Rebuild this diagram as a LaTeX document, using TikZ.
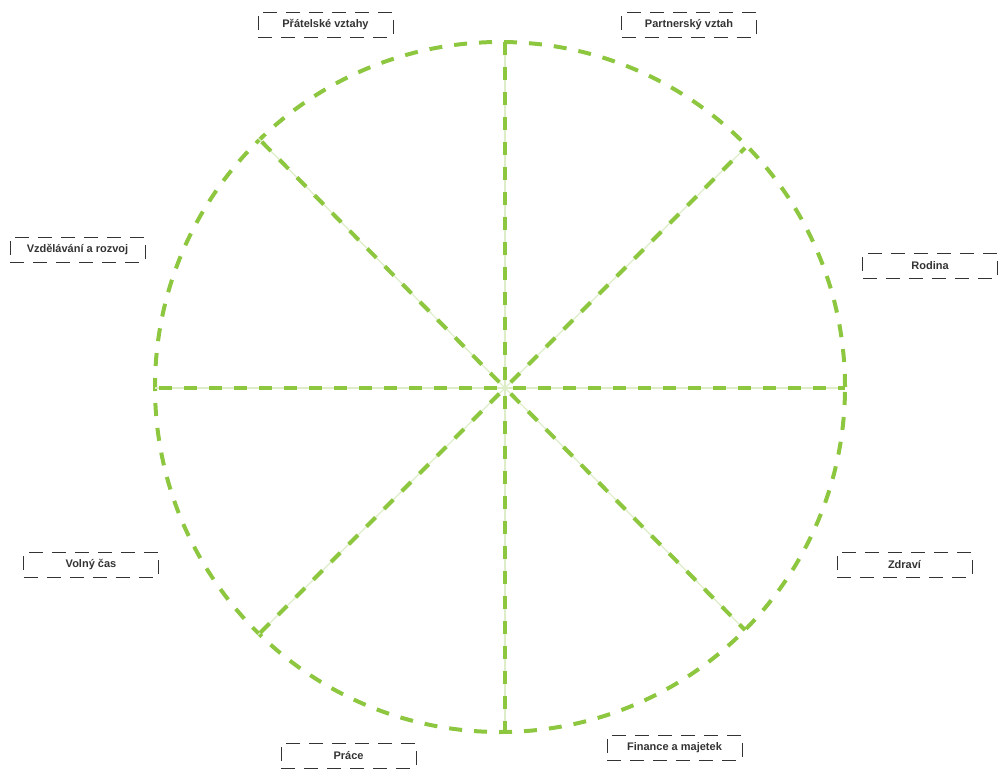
\documentclass[tikz,border=0pt]{standalone}
\usepackage{fontspec}
\setmainfont{Liberation Sans}
\definecolor{wheelgreen}{HTML}{8DC63F}
\definecolor{palegreen}{HTML}{DCEDC8}
\definecolor{labeltext}{HTML}{333333}
\tikzset{
  wheel/.style={draw=wheelgreen, line width=4pt, dash pattern=on 13pt off 12pt},
  spokeline/.style={draw=wheelgreen, line width=4pt, dash pattern=on 13pt off 12pt, dash phase=17pt},
  spokebase/.style={draw=palegreen, line width=1.2pt},
  labelbox/.style={draw=black!80, line width=0.8pt, dash pattern=on 14pt off 9pt, minimum width=135pt, minimum height=25pt, inner sep=0pt, font=\bfseries\fontsize{11pt}{13pt}\selectfont, text=labeltext},
}
\begin{document}
\begin{tikzpicture}[x=1pt,y=-1pt]
\useasboundingbox (0,0) rectangle (998,770);
% wheel
\coordinate (c) at (500,387);
\coordinate (hub) at (505,388);
\draw[wheel] (c) circle [radius=345pt];
% spoke ends
\coordinate (eT) at (505,42);
\coordinate (eB) at (505,732);
\coordinate (eL) at (155,388);
\coordinate (eR) at (845,388);
\coordinate (eNW) at (258,138);
\coordinate (eNE) at (745,148);
\coordinate (eSE) at (745,630);
\coordinate (eSW) at (258,635);
\foreach \e in {eT,eB,eL,eR,eNW,eNE,eSE,eSW}{
  \draw[spokebase] (hub) -- (\e);
}
\foreach \e in {eT,eB,eL,eR,eNW,eNE,eSE,eSW}{
  \draw[spokeline] (hub) -- (\e);
}
% labels
\node[labelbox] (pratele) at (325.5,24.5) {Přátelské vztahy};
\node[labelbox] (partner) at (689,25) {Partnerský vztah};
\node[labelbox] (vzdel) at (77.5,249.5) {Vzdělávání a rozvoj};
\node[labelbox] (rodina) at (930,265.5) {Rodina};
\node[labelbox] (volny) at (91,564.5) {Volný čas};
\node[labelbox] (zdravi) at (904.5,564.5) {Zdraví};
\node[labelbox] (prace) at (348.5,755.5) {Práce};
\node[labelbox] (finance) at (674.5,747.5) {Finance a majetek};
\end{tikzpicture}
\end{document}
